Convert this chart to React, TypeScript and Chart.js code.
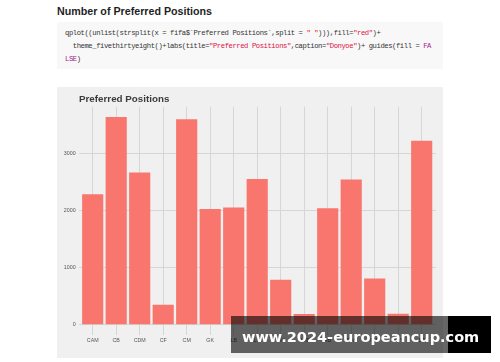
import React, { useEffect, useRef } from "react";
import { Chart, registerables } from "chart.js";

Chart.register(...registerables);

const categories = ["CAM", "CB", "CDM", "CF", "CM", "GK", "LB", "LM", "LW", "LWB", "RB", "RM", "RW", "RWB", "ST"];
const counts = [2280, 3630, 2660, 350, 3590, 2025, 2050, 2548, 785, 188, 2038, 2537, 808, 192, 3218];
const yTickValues = [0, 1000, 2000, 3000];
const chartTitle = "Preferred Positions";
const pageHeading = "Number of Preferred Positions";
const watermark = "www.2024-europeancup.com";

const BAR = "#f8766d";
const GRID = "#d6d6d6";
const TICK_FONT = "'Liberation Sans', Arial, sans-serif";

const titlePlugin = {
  id: "ggTitle",
  afterDraw(chart: any) {
    const ctx = chart.ctx;
    ctx.save();
    ctx.font = "bold 9.8px 'Liberation Sans', Arial, sans-serif";
    ctx.fillStyle = "#3c3c3c";
    ctx.textBaseline = "alphabetic";
    ctx.textAlign = "left";
    ctx.fillText(chartTitle, 22, 15);
    ctx.restore();
  },
};

function ChartPanel() {
  const ref = useRef<HTMLCanvasElement | null>(null);
  useEffect(() => {
    if (!ref.current) return;
    const maxV = Math.max(...counts);
    const expand = maxV * 0.05;
    const chart = new Chart(ref.current, {
      type: "bar",
      data: {
        datasets: [
          {
            data: counts.map((v, i) => ({ x: i, y: v })),
            backgroundColor: BAR,
            borderWidth: 0,
            categoryPercentage: 1,
            barPercentage: 0.9,
          } as any,
        ],
      },
      options: {
        animation: false,
        responsive: false,
        maintainAspectRatio: false,
        layout: { padding: { left: 0, right: 7.2, top: 19.7, bottom: 0 } },
        plugins: {
          legend: { display: false },
          tooltip: { enabled: false },
          title: { display: false },
        },
        scales: {
          x: {
            type: "linear",
            min: -0.6,
            max: categories.length - 1 + 0.6,
            offset: false,
            grid: { offset: false, color: GRID, lineWidth: 1, drawTicks: false },
            border: { display: false },
            afterBuildTicks: (axis: any) => {
              axis.ticks = categories.map((_, i) => ({ value: i }));
            },
            afterFit: (axis: any) => {
              axis.height = 22.9;
            },
            ticks: {
              callback: (v: any) => categories[v as number] ?? "",
              font: { size: 5.3, family: TICK_FONT },
              color: "#555555",
              padding: 2.5,
              maxRotation: 0,
              minRotation: 0,
              autoSkip: false,
            },
          },
          y: {
            type: "linear",
            min: -expand,
            max: maxV + expand,
            grid: { color: GRID, lineWidth: 1, drawTicks: false },
            border: { display: false },
            afterBuildTicks: (axis: any) => {
              axis.ticks = yTickValues.map((v) => ({ value: v }));
            },
            afterFit: (axis: any) => {
              axis.width = 21.6;
            },
            ticks: {
              font: { size: 5.3, family: TICK_FONT },
              color: "#555555",
              padding: 3,
              callback: (v: any) => String(v),
            },
          },
        },
      } as any,
      plugins: [titlePlugin],
    });
    return () => chart.destroy();
  }, []);
  return <canvas ref={ref} width={386} height={271} style={{ display: "block", width: 386, height: 271 }} />;
}

const STR = "#dd1144";
const KW = "#a3198c";
const TXT = "#333333";

function CodeLine({ top, left, parts }: { top: number; left: number; parts: [string, string][] }) {
  return (
    <div
      style={{
        position: "absolute",
        left,
        top,
        height: 13,
        lineHeight: "13px",
        fontFamily: "'Liberation Mono', 'DejaVu Sans Mono', monospace",
        fontSize: 7.2,
        letterSpacing: -0.42,
        whiteSpace: "pre",
        color: TXT,
      }}
    >
      {parts.map(([t, c], i) => (
        <span key={i} style={{ color: c }}>
          {t}
        </span>
      ))}
    </div>
  );
}

export default function App() {
  return (
    <div style={{ position: "absolute", left: 0, top: 0, width: 500, height: 362, background: "#ffffff", overflow: "hidden" }}>
      <div
        style={{
          position: "absolute",
          left: 57,
          top: 5.3,
          lineHeight: "12px",
          fontSize: 10.7,
          fontWeight: "bold",
          fontFamily: "'Liberation Sans', Arial, sans-serif",
          color: "#1f1f1f",
          whiteSpace: "nowrap",
        }}
      >
        {pageHeading}
      </div>
      <div style={{ position: "absolute", left: 57, top: 22, width: 386, height: 47, background: "#f8f8f8" }} />
      <CodeLine
        top={27}
        left={65}
        parts={[
          ["qplot((unlist(strsplit(x = fifa$`Preferred Positions`,split = ", TXT],
          ['" "', STR],
          ["))),fill=", TXT],
          ['"red"', STR],
          [")+", TXT],
        ]}
      />
      <CodeLine
        top={40}
        left={65}
        parts={[
          ["  theme_fivethirtyeight()+labs(title=", TXT],
          ['"Preferred Positions"', STR],
          [",caption=", TXT],
          ['"Donyoe"', STR],
          [")+ guides(fill = ", TXT],
          ["FA", KW],
        ]}
      />
      <CodeLine
        top={53}
        left={65}
        parts={[
          ["LSE", KW],
          [")", TXT],
        ]}
      />
      <div style={{ position: "absolute", left: 57, top: 87, width: 386, height: 271, background: "#f0f0f0" }}>
        <ChartPanel />
      </div>
      <div style={{ position: "absolute", left: 231, top: 316, width: 217, height: 37, background: "rgba(0,0,0,0.6)" }} />
      <div style={{ position: "absolute", left: 448, top: 316, width: 43, height: 37, background: "#000000" }} />
      <div
        style={{
          position: "absolute",
          left: 242,
          top: 329.5,
          lineHeight: "15px",
          fontSize: 14.5,
          fontWeight: "bold",
          fontFamily: "'DejaVu Sans', Verdana, sans-serif",
          color: "#ffffff",
          whiteSpace: "nowrap",
        }}
      >
        {watermark}
      </div>
    </div>
  );
}
